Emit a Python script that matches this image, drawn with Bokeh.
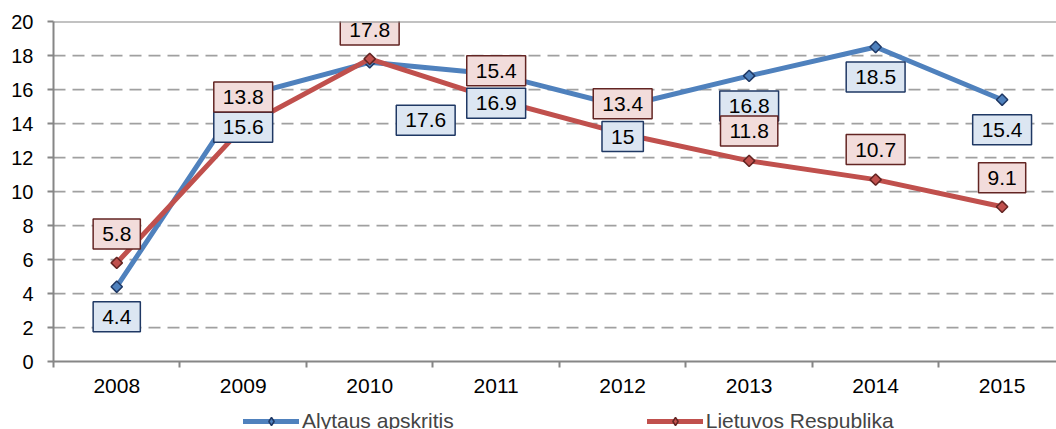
import math
from bokeh.plotting import figure
from bokeh.layouts import column
from bokeh.models import Range1d, FixedTicker, Span, Legend, LegendItem, ColumnDataSource
from bokeh.embed import file_html
from bokeh.resources import INLINE
from bokeh.core.properties import value

# ---- data ----
years = [2008, 2009, 2010, 2011, 2012, 2013, 2014, 2015]
alytus = [4.4, 15.6, 17.6, 16.9, 15.0, 16.8, 18.5, 15.4]
lietuva = [5.8, 13.8, 17.8, 15.4, 13.4, 11.8, 10.7, 9.1]
y_ticks = [0, 2, 4, 6, 8, 10, 12, 14, 16, 18, 20]
series_names = ["Alytaus apskritis", "Lietuvos Respublika"]

# ---- label placement (screen px offsets, layout only) ----
blue_dx = [0, 0, 56, 0, 0, 0, 0, 0]
blue_dy = [30, 31, 58, 29, 30, 30, 30, 30]
red_dx = [0, 0, 0, 0, 0, 0, 0, 0]
red_dy = [-29, -30, -29, -29, -30, -30, -30, -29]

BLUE = "#4f81bd"
BLUE_DARK = "#1f3864"
RED = "#c0504d"
RED_DARK = "#632523"
AXIS = "#868686"
FONT = "Liberation Sans"

p = figure(width=1056, height=400, output_backend="svg", toolbar_location=None,
           x_range=Range1d(2007.5, 2015.43), y_range=Range1d(0, 20),
           min_border_left=53, min_border_right=0, min_border_top=21, min_border_bottom=39)
p.outline_line_color = None
p.background_fill_color = "white"
p.border_fill_color = "white"

# grid
p.xgrid.visible = False
p.ygrid.ticker = FixedTicker(ticks=y_ticks)
p.ygrid.grid_line_color = "#a0a0a0"
p.ygrid.grid_line_width = 1.75
p.ygrid.grid_line_dash = "12 7"
p.add_layout(Span(location=20, dimension="width", line_color=AXIS, line_width=2))

# x axis
xa = p.xaxis[0]
xa.ticker = FixedTicker(ticks=years, minor_ticks=[2007.5 + i for i in range(9)])
xa.major_tick_out = 0
xa.major_tick_in = 0
xa.minor_tick_out = 6
xa.minor_tick_in = 0
xa.minor_tick_line_color = AXIS
xa.minor_tick_line_width = 2
xa.axis_line_color = AXIS
xa.axis_line_width = 2
xa.major_label_standoff = 11
xa.major_label_text_font = FONT
xa.major_label_text_font_size = "21px"
xa.major_label_text_color = "black"

# y axis
ya = p.yaxis[0]
ya.ticker = FixedTicker(ticks=y_ticks)
ya.major_tick_out = 6
ya.major_tick_in = 0
ya.major_tick_line_color = AXIS
ya.major_tick_line_width = 2
ya.minor_tick_line_color = None
ya.axis_line_color = AXIS
ya.axis_line_width = 2
ya.major_label_standoff = 14
ya.major_label_text_font = FONT
ya.major_label_text_font_size = "20px"
ya.major_label_text_color = "black"

line_kw = dict(line_width=5, line_join="round", line_cap="round")
mark_kw = dict(marker="square", angle=math.pi / 4, size=8, line_width=1.5)

# series
p.line(years, alytus, line_color=BLUE, **line_kw)
p.scatter(years, alytus, fill_color=BLUE, line_color=BLUE_DARK, **mark_kw)
p.line(years, lietuva, line_color=RED, **line_kw)
p.scatter(years, lietuva, fill_color=RED, line_color=RED_DARK, **mark_kw)

# data labels
src_b = ColumnDataSource(dict(x=years, y=alytus, t=[f"{v:g}" for v in alytus], dx=blue_dx, dy=blue_dy))
src_r = ColumnDataSource(dict(x=years, y=lietuva, t=[f"{v:g}" for v in lietuva], dx=red_dx, dy=red_dy))
for src, fill, border in ((src_b, "#dce6f2", BLUE_DARK), (src_r, "#f2dcdb", RED_DARK)):
    p.text(x="x", y="y", text="t", x_offset="dx", y_offset="dy", source=src,
           text_align="center", text_baseline="middle", text_font=value(FONT),
           text_font_size="21px", text_color="black",
           background_fill_color=fill, border_line_color=border, border_line_width=1.5,
           padding=(9, 8))

# legend strip below the chart (series renderers here lie outside its range;
# they only provide the legend glyphs)
q = figure(width=1056, height=29, output_backend="svg", toolbar_location=None,
           x_range=Range1d(0, 1056), y_range=Range1d(0, 29),
           min_border_left=0, min_border_right=0, min_border_top=0, min_border_bottom=0)
q.outline_line_color = None
q.axis.visible = False
q.grid.visible = False
leg_mark_kw = dict(marker="diamond", size=12, line_width=1.5)
lb = q.line(years, alytus, line_color=BLUE, **line_kw)
mb = q.scatter(years, alytus, fill_color=BLUE, line_color=BLUE_DARK, **leg_mark_kw)
lr = q.line(years, lietuva, line_color=RED, **line_kw)
mr = q.scatter(years, lietuva, fill_color=RED, line_color=RED_DARK, **leg_mark_kw)
legend = Legend(items=[LegendItem(label=series_names[0], renderers=[lb, mb]),
                       LegendItem(label=series_names[1], renderers=[lr, mr])],
                orientation="horizontal", location=(190, -4), spacing=193,
                glyph_width=56, glyph_height=20, label_standoff=3,
                label_text_font=FONT, label_text_font_size="21px",
                padding=0, margin=0, border_line_color=None, background_fill_alpha=0)
q.add_layout(legend, "center")

layout = column(p, q, spacing=0)
open("out.html", "w").write(file_html(layout, INLINE))
